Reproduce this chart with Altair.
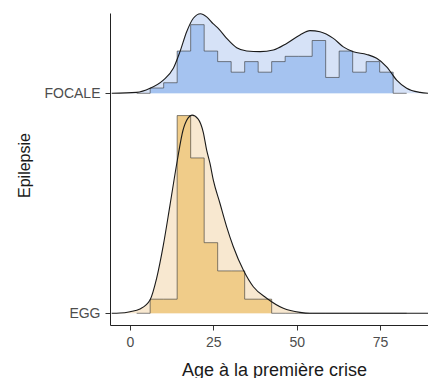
import altair as alt
import pandas as pd

# Groups (bottom to top) and their vertical baselines
groups = ["EGG", "FOCALE"]
baselines = [0, 1]

# Histogram: common bin edges (first/last bins are empty padding bins)
bin_start = 2.0
bin_width = 4.05
counts_egg = [0, 1, 1, 14, 11, 5, 3, 3, 1, 1, 0, 0, 0, 0, 0, 0, 0, 0, 0, 0]
counts_focale = [0, 1, 2, 8, 13, 8, 6, 4, 6, 4, 6, 7, 7, 10, 3, 8, 4, 6, 4, 0]

# Kernel density curves (age, density)
dens_x_egg = [-5.5, -3.0, 0.0, 3.0, 6.0, 8.0, 10.0, 12.0, 14.2, 15.9, 17.4, 18.6,
              20.4, 22.0, 23.0, 24.0, 25.0, 27.0, 29.0, 31.0, 34.0, 37.0, 41.0,
              46.0, 51.0, 54.0, 89.4]
dens_y_egg = [0.0, 0.0001, 0.0007, 0.0019, 0.0058, 0.0154, 0.0298, 0.0473, 0.0669,
              0.0800, 0.0853, 0.0866, 0.0850, 0.0790, 0.0713, 0.0655, 0.0582,
              0.0480, 0.0378, 0.0291, 0.0189, 0.0116, 0.0066, 0.0022, 0.0004,
              0.0, 0.0]
dens_x_focale = [-5.5, 2.0, 6.0, 10.0, 13.0, 15.0, 17.0, 19.0, 21.15, 23.0, 25.0,
                 26.4, 29.0, 32.0, 35.0, 39.0, 43.0, 47.0, 51.0, 54.0, 57.0, 61.0,
                 64.0, 67.0, 71.0, 74.0, 77.0, 80.0, 83.0, 87.0, 89.4]
dens_y_focale = [0.0, 0.0004, 0.0022, 0.0058, 0.0109, 0.0182, 0.0269, 0.0328,
                 0.0348, 0.0334, 0.0303, 0.0285, 0.0240, 0.0199, 0.0185, 0.0182,
                 0.0189, 0.0218, 0.0255, 0.0274, 0.0269, 0.0240, 0.0203, 0.0182,
                 0.0170, 0.0153, 0.0116, 0.0058, 0.0022, 0.0004, 0.0]

x_ticks = [0, 25, 50, 75]
ridge_scale = 10.4  # density -> ridge height (in category units)

light_fill = ["#F8E8D0", "#D6E2F7"]
dark_fill = ["#F0CC89", "#A5C3F0"]

# Long tables for the ridges
hist_rows = []
for g, base, counts in zip(groups, baselines, [counts_egg, counts_focale]):
    n = sum(counts)
    for i in range(len(counts) + 1):
        h = counts[i] / (n * bin_width) if i < len(counts) else 0.0
        hist_rows.append({"group": g, "age": bin_start + i * bin_width,
                          "base": base, "top": base + h * ridge_scale})
hist = pd.DataFrame(hist_rows)

dens_rows = []
for g, base, xs, ys in zip(groups, baselines,
                           [dens_x_egg, dens_x_focale], [dens_y_egg, dens_y_focale]):
    for a, d in zip(xs, ys):
        dens_rows.append({"group": g, "age": a, "base": base,
                          "top": base + d * ridge_scale})
dens = pd.DataFrame(dens_rows)

x_scale = alt.Scale(domain=[-6.0, 89.4], nice=False, zero=False)
y_scale = alt.Scale(domain=[-0.0532, 1.365], nice=False, zero=False)

x_enc = alt.X("age:Q", scale=x_scale, axis=alt.Axis(
    values=x_ticks, title="Age à la première crise", grid=False,
    tickSize=5, labelPadding=5, titleX=164, titleY=50,
    titleBaseline="alphabetic"))
y_enc = alt.Y("top:Q", scale=y_scale, axis=alt.Axis(
    values=baselines, labelExpr="datum.value == 0 ? 'EGG' : 'FOCALE'",
    title="Epilepsie", grid=False, tickSize=5, labelPadding=5,
    titleX=-81, titleY=152, titleBaseline="alphabetic", titleFontSize=16))

dens_area = alt.Chart(dens).mark_area(interpolate="monotone", clip=True).encode(
    x=x_enc, y=y_enc, y2="base:Q",
    color=alt.Color("group:N", scale=alt.Scale(domain=groups, range=light_fill),
                    legend=None))

hist_area = alt.Chart(hist).mark_area(interpolate="step-after", clip=True).encode(
    x="age:Q", y="top:Q", y2="base:Q",
    color=alt.Color("group:N", scale=alt.Scale(domain=groups, range=dark_fill),
                    legend=None))

hist_line = alt.Chart(hist).mark_line(
    interpolate="step-after", color="#333333", opacity=0.6, strokeWidth=1,
    clip=True).encode(x="age:Q", y="top:Q", detail="group:N")

dens_line = alt.Chart(dens).mark_line(
    interpolate="monotone", color="#1a1a1a", strokeWidth=1.1, clip=True).encode(
    x="age:Q", y="top:Q", detail="group:N")

chart = alt.layer(dens_area, hist_area, hist_line, dens_line).resolve_scale(
    color="independent"
).properties(
    width=318, height=312,
    padding={"left": 110, "top": 13, "right": 0, "bottom": 53},
    autosize=alt.AutoSizeParams(type="none"),
).configure_view(stroke=None).configure_axis(
    domainColor="#222222", domainWidth=1, tickColor="#333333", tickWidth=1,
    labelFont="Liberation Sans", labelFontSize=14, labelColor="#4D4D4D",
    titleFont="Liberation Sans", titleFontSize=18, titleColor="#1a1a1a",
    titleFontWeight="normal",
)

chart.save("out.html", embed_options={"renderer": "svg", "actions": False})
